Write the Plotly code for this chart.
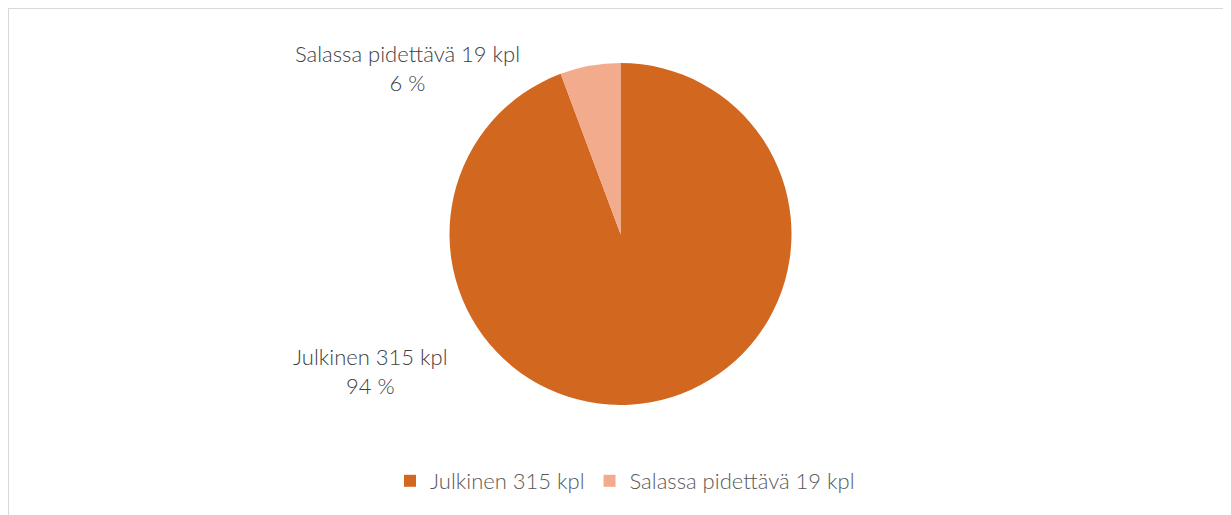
import plotly.graph_objects as go

labels = ["Julkinen 315 kpl", "Salassa pidettävä 19 kpl"]
values = [315, 19]
colors = ["#D2681F", "#F2AB8C"]

W, H = 1231, 515
OFF = 8  # page body margin
cx, cy, r = 620.5 - OFF, 234 - OFF, 171

total = sum(values)
pcts = [round(v / total * 100) for v in values]

FONT_FAMILY = "Lato, Carlito, Calibri, sans-serif"

fig = go.Figure()
fig.add_trace(go.Pie(
    labels=labels, values=values, sort=False, direction="clockwise", rotation=0,
    marker=dict(colors=colors, line=dict(width=0)),
    textinfo="none", hoverinfo="label+value+percent",
    domain=dict(x=[(cx - r) / W, (cx + r) / W], y=[1 - (cy + r) / H, 1 - (cy - r) / H]),
))

font = dict(family=FONT_FAMILY, size=22, color="#404040", weight=300)
label_pos = [(370 - OFF, 371 - OFF), (407 - OFF, 68 - OFF)]
for (lx, ly), lab, p in zip(label_pos, labels, pcts):
    fig.add_annotation(x=lx / W, y=1 - ly / H, xref="paper", yref="paper",
                       text=f"{lab}<br>{p} %", showarrow=False, font=font,
                       xanchor="center", yanchor="middle", align="center")

# chart border (top and left visible)
fig.add_shape(type="line", xref="paper", yref="paper", x0=0, x1=1, y0=1, y1=1,
              line=dict(color="#D9D9D9", width=2))
fig.add_shape(type="line", xref="paper", yref="paper", x0=0, x1=0, y0=0, y1=1,
              line=dict(color="#D9D9D9", width=2))

fig.update_layout(
    width=W, height=H, margin=dict(l=0, r=0, t=0, b=0),
    paper_bgcolor="white", plot_bgcolor="white",
    showlegend=True,
    legend=dict(orientation="h", x=(625 - OFF) / W, xanchor="center", y=1 - (481 - OFF) / H, yanchor="middle",
                font=dict(family=FONT_FAMILY, size=22, color="#595959", weight=300),
                itemwidth=30, traceorder="normal"),
)

fig.write_html("out.html")
